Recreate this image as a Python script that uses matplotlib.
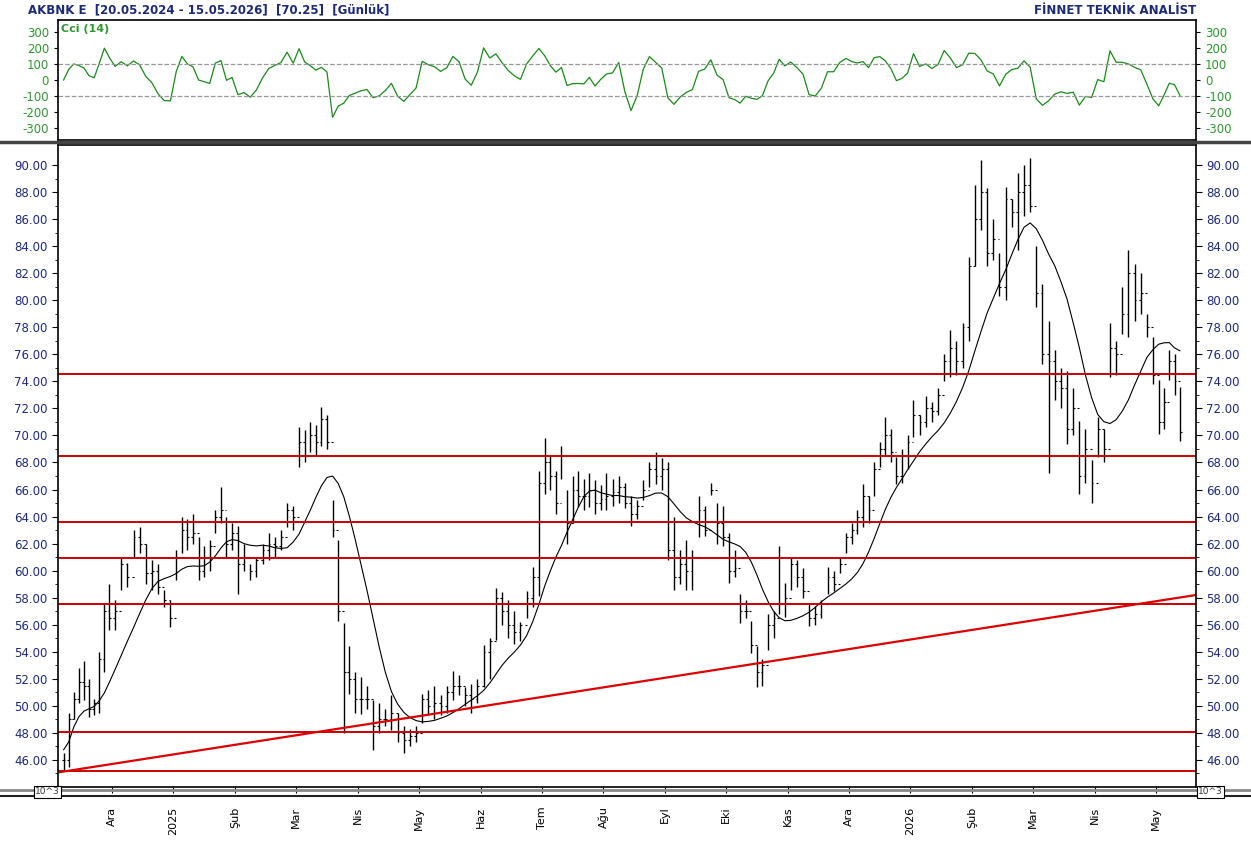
import numpy as np
import pandas as pd
import matplotlib
matplotlib.use('Agg')
import matplotlib.pyplot as plt

plt.rcParams['axes.unicode_minus'] = False

# ----- Price data (2-day bars, grouped by month) -----
month_labels = ['Ara', '2025', 'Şub', 'Mar', 'Nis', 'May', 'Haz', 'Tem', 'Ağu', 'Eyl',
                'Eki', 'Kas', 'Ara', '2026', 'Şub', 'Mar', 'Nis', 'May']

highs = [
    [46.5, 49.5, 51.0, 52.8, 53.3, 52.0, 50.5, 54.0, 57.5, 59.0],
    [57.8, 61.0, 60.6, 63.0, 63.2, 62.0, 60.8, 60.5, 58.6, 57.8],
    [61.5, 64.0, 63.8, 64.2, 62.5, 61.8, 62.3, 64.5, 66.2, 64.0, 63.5],
    [63.3, 62.0, 60.5, 61.0, 62.0, 62.8, 62.5, 63.0, 65.0, 64.8],
    [70.6, 70.4, 71.0, 70.8, 72.1, 71.5, 65.2, 62.3, 56.1, 54.4, 52.5],
    [52.1, 51.5, 50.4, 50.2, 49.8, 50.8, 49.5, 48.5, 48.3, 48.5],
    [50.9, 51.2, 51.5, 50.8, 51.5, 52.6, 52.3, 51.4, 51.6, 52.0],
    [54.5, 55.0, 58.7, 58.4, 57.8, 57.0, 56.2, 58.5, 60.3, 67.4],
    [69.8, 68.5, 67.4, 69.2, 66.0, 67.0, 67.4, 66.8, 67.2, 66.7, 66.3],
    [67.2, 66.8, 67.0, 66.5, 65.5, 65.2, 66.7, 68.0, 68.8, 68.3],
    [68.0, 64.0, 61.5, 62.3, 61.5, 65.5, 64.8, 66.5, 65.0, 64.8],
    [62.8, 61.5, 58.3, 57.8, 56.3, 54.4, 53.5, 56.8, 57.0, 61.8, 59.1],
    [61.0, 60.8, 60.2, 57.6, 57.4, 57.8, 60.3, 60.0, 61.0, 62.8],
    [63.5, 64.5, 66.4, 65.5, 68.0, 69.5, 71.4, 70.5, 68.4, 69.0, 70.0],
    [72.6, 71.5, 72.9, 72.5, 73.5, 76.0, 77.8, 77.0, 78.3, 83.2],
    [88.5, 90.4, 88.3, 86.0, 83.5, 88.4, 87.5, 89.4, 90.0, 90.5],
    [84.0, 81.2, 78.5, 76.3, 75.0, 74.8, 73.5, 71.1, 70.5, 68.2],
    [71.4, 70.5, 78.3, 77.0, 81.0, 83.7, 82.7, 82.0, 79.0, 77.3],
    [74.1, 73.5, 76.3, 76.0, 73.6],
]
lows = [
    [45.2, 45.5, 49.0, 50.2, 50.4, 49.2, 49.3, 49.5, 52.5, 55.6],
    [55.6, 58.6, 58.8, 61.0, 61.3, 59.0, 58.6, 58.3, 57.3, 55.8],
    [59.3, 61.3, 61.5, 62.0, 59.3, 59.5, 60.0, 62.8, 63.5, 61.0, 61.5],
    [58.3, 60.0, 59.3, 59.5, 60.5, 60.8, 61.0, 61.5, 63.2, 63.0],
    [67.7, 68.0, 68.8, 68.5, 69.2, 69.0, 62.5, 56.3, 48.0, 50.9, 49.5],
    [49.4, 49.8, 46.7, 48.0, 48.5, 48.2, 47.3, 46.5, 47.0, 47.3],
    [48.7, 49.3, 49.0, 49.3, 49.5, 50.4, 50.8, 50.0, 49.5, 50.2],
    [51.4, 52.0, 54.9, 56.0, 55.0, 54.6, 54.8, 56.5, 57.3, 58.1],
    [65.7, 66.0, 64.2, 66.8, 62.0, 63.5, 64.7, 64.5, 64.7, 64.2, 64.5],
    [64.5, 64.8, 65.0, 64.6, 63.3, 63.8, 65.2, 66.2, 66.4, 66.0],
    [60.8, 58.6, 59.0, 58.6, 58.6, 62.5, 62.6, 65.6, 62.0, 61.8],
    [59.1, 59.5, 56.1, 56.5, 53.9, 51.4, 51.5, 54.1, 55.0, 56.8, 56.6],
    [58.6, 58.8, 58.0, 55.9, 56.0, 56.5, 58.3, 58.5, 59.8, 61.3],
    [62.0, 62.7, 63.2, 63.5, 65.5, 67.7, 68.5, 68.0, 66.4, 66.5, 67.5],
    [69.9, 70.0, 70.6, 71.0, 71.5, 74.0, 74.3, 74.5, 75.0, 77.0],
    [82.5, 85.2, 82.5, 83.0, 80.3, 80.0, 85.4, 83.7, 86.2, 86.5],
    [79.5, 75.3, 67.2, 72.6, 72.0, 69.4, 70.0, 65.7, 66.5, 65.0],
    [68.4, 68.0, 74.3, 74.5, 77.5, 77.3, 78.5, 79.0, 77.3, 73.8],
    [70.1, 70.5, 74.1, 73.0, 69.6],
]
closes = [
    [46.0, 49.0, 50.5, 51.8, 51.5, 49.8, 50.2, 53.5, 57.0, 56.5],
    [57.0, 60.5, 59.5, 62.5, 62.0, 59.8, 60.0, 58.8, 57.8, 56.5],
    [61.0, 63.0, 62.5, 62.8, 60.0, 61.0, 61.8, 64.0, 64.5, 62.0, 62.8],
    [60.5, 61.0, 60.0, 60.8, 61.5, 62.0, 61.8, 62.5, 64.5, 64.0],
    [69.5, 68.5, 70.0, 69.5, 71.2, 69.5, 63.0, 57.0, 52.5, 52.0, 50.5],
    [50.5, 50.5, 48.5, 49.0, 49.0, 49.5, 48.0, 47.5, 47.8, 48.0],
    [50.5, 50.0, 50.2, 50.0, 51.0, 51.5, 51.5, 50.8, 50.5, 51.5],
    [54.0, 54.8, 58.0, 57.0, 56.0, 55.5, 56.0, 58.0, 59.5, 66.5],
    [68.0, 67.0, 65.0, 68.5, 63.5, 66.0, 65.5, 65.5, 66.0, 65.0, 65.3],
    [65.5, 65.8, 66.2, 65.0, 64.2, 64.8, 66.0, 67.5, 67.0, 67.5],
    [61.5, 59.5, 60.5, 60.0, 61.0, 64.5, 63.0, 66.0, 63.5, 62.5],
    [60.0, 60.2, 57.0, 57.0, 54.5, 52.5, 53.0, 56.0, 56.5, 57.5, 58.0],
    [60.5, 59.5, 58.5, 56.5, 56.8, 57.5, 59.5, 59.0, 60.5, 62.5],
    [63.0, 64.0, 65.5, 64.5, 67.5, 69.0, 70.0, 68.8, 67.0, 68.5, 69.5],
    [71.5, 71.0, 72.0, 71.8, 73.0, 75.5, 76.5, 75.5, 78.0, 82.5],
    [86.0, 88.0, 83.5, 84.5, 81.0, 87.5, 86.5, 88.0, 88.5, 87.0],
    [80.5, 76.0, 75.5, 74.0, 73.5, 70.5, 72.0, 67.0, 69.0, 66.5],
    [70.5, 69.0, 76.5, 76.0, 79.0, 82.0, 80.0, 80.5, 78.0, 74.5],
    [71.0, 72.5, 75.5, 74.0, 70.25],
]

support_levels = [74.55, 68.5, 63.6, 60.95, 57.55, 48.1, 45.15]
trend_start = (0.15, 45.1)
trend_end = (18.65, 58.2)

# ----- Bar positions in "month units" (month ticks at integers) -----
xs = []
for m, month in enumerate(closes):
    k = len(month)
    if m == 0:
        start, span = 0.17, 0.83
    elif m == len(closes) - 1:
        start, span = m, 0.43
    else:
        start, span = m, 1.0
    xs += [start + (i + 0.5) / k * span for i in range(k)]
x = np.array(xs)
hi = np.concatenate(highs)
lo = np.concatenate(lows)
cl = np.concatenate(closes)
op = np.r_[cl[0], cl[:-1]]

ma = pd.Series(cl).rolling(10, min_periods=1).mean().rolling(3, min_periods=1, center=True).mean()

tp = pd.Series((hi + lo + cl) / 3)
tp_ma = tp.rolling(7, min_periods=1).mean()
md = tp.rolling(7, min_periods=1).apply(lambda v: np.mean(np.abs(v - v.mean())), raw=True)
cci = ((tp - tp_ma) / (0.015 * md.replace(0, np.nan))).fillna(0).clip(-300, 300)

# ----- Figure -----
navy = '#1c2a78'
green = '#2e9a2e'
fig = plt.figure(figsize=(12.51, 8.41), dpi=100)
L, W = 58 / 1251, 1138 / 1251
ax_c = fig.add_axes([L, 1 - 140 / 841, W, 120 / 841])
ax = fig.add_axes([L, 1 - 787 / 841, W, 642 / 841])
xlim = (0.12, 18.65)

# CCI panel
ax_c.plot(x, cci, color='#1a8a1a', lw=0.9)
for lv in (100, -100):
    ax_c.axhline(lv, color='#999999', ls='--', lw=0.9)
ax_c.set_xlim(*xlim)
ax_c.set_ylim(-375, 375)
ax_c.set_yticks(range(-300, 301, 100))
ax_c.tick_params(axis='y', labelcolor=green, labelsize=8.5, right=True, labelright=True, length=3)
ax_c.set_xticks([])
ax_c.text(0.003, 0.97, 'Cci (14)', transform=ax_c.transAxes, color=green, fontsize=8,
          fontweight='bold', va='top')

# Main panel: OHLC bars
ax.vlines(x, lo, hi, color='black', lw=1.0)
tick = 0.03
ax.hlines(op, x - tick, x, color='black', lw=0.8)
ax.hlines(cl, x, x + tick, color='black', lw=0.8)
ax.plot(x, ma, color='black', lw=0.8)
for lv in support_levels:
    ax.axhline(lv, color='#cc0000', lw=1.4)
ax.plot([trend_start[0], trend_end[0]], [trend_start[1], trend_end[1]], color='#dd0000', lw=1.6)

ax.set_xlim(*xlim)
ax.set_ylim(44.0, 91.48)
ax.set_yticks(np.arange(46, 91, 2))
ax.set_yticks(np.arange(45, 91, 1), minor=True)
ax.yaxis.set_major_formatter(matplotlib.ticker.FormatStrFormatter('%.2f'))
ax.tick_params(axis='y', which='both', labelcolor=navy, labelsize=8.5, right=True, labelright=True)
ax.tick_params(axis='y', which='major', length=4)
ax.tick_params(axis='y', which='minor', length=2)
ax.set_xticks(range(1, 19))
ax.set_xticklabels(month_labels, rotation=90, fontsize=8)
ax.tick_params(axis='x', length=4, pad=10)

for a in (ax, ax_c):
    for s in a.spines.values():
        s.set_linewidth(1.2)

# separators
fig.add_artist(plt.Line2D([0, 1], [1 - 142 / 841, 1 - 142 / 841], color='#444444', lw=2.5))
fig.add_artist(plt.Line2D([0, 1], [1 - 790 / 841, 1 - 790 / 841], color='#888888', lw=2))
fig.add_artist(plt.Line2D([0, 1], [1 - 796 / 841, 1 - 796 / 841], color='#222222', lw=1.5))

# small "10^3" scale boxes
for bx in (35 / 1251, 1198 / 1251):
    fig.text(bx, 1 - 792 / 841, '10^3', fontsize=6.5, color='#333333', va='center',
             bbox=dict(boxstyle='square,pad=0.15', fc='white', ec='black', lw=0.8))

fig.text(28 / 1251, 1 - 10 / 841, 'AKBNK E  [20.05.2024 - 15.05.2026]  [70.25]  [Günlük]',
         color=navy, fontsize=8.5, fontweight='bold', va='center')
fig.text(1196 / 1251, 1 - 10 / 841, 'FİNNET TEKNİK ANALİST', color=navy, fontsize=8.5,
         fontweight='bold', va='center', ha='right')

fig.savefig('out.png', dpi=100)
